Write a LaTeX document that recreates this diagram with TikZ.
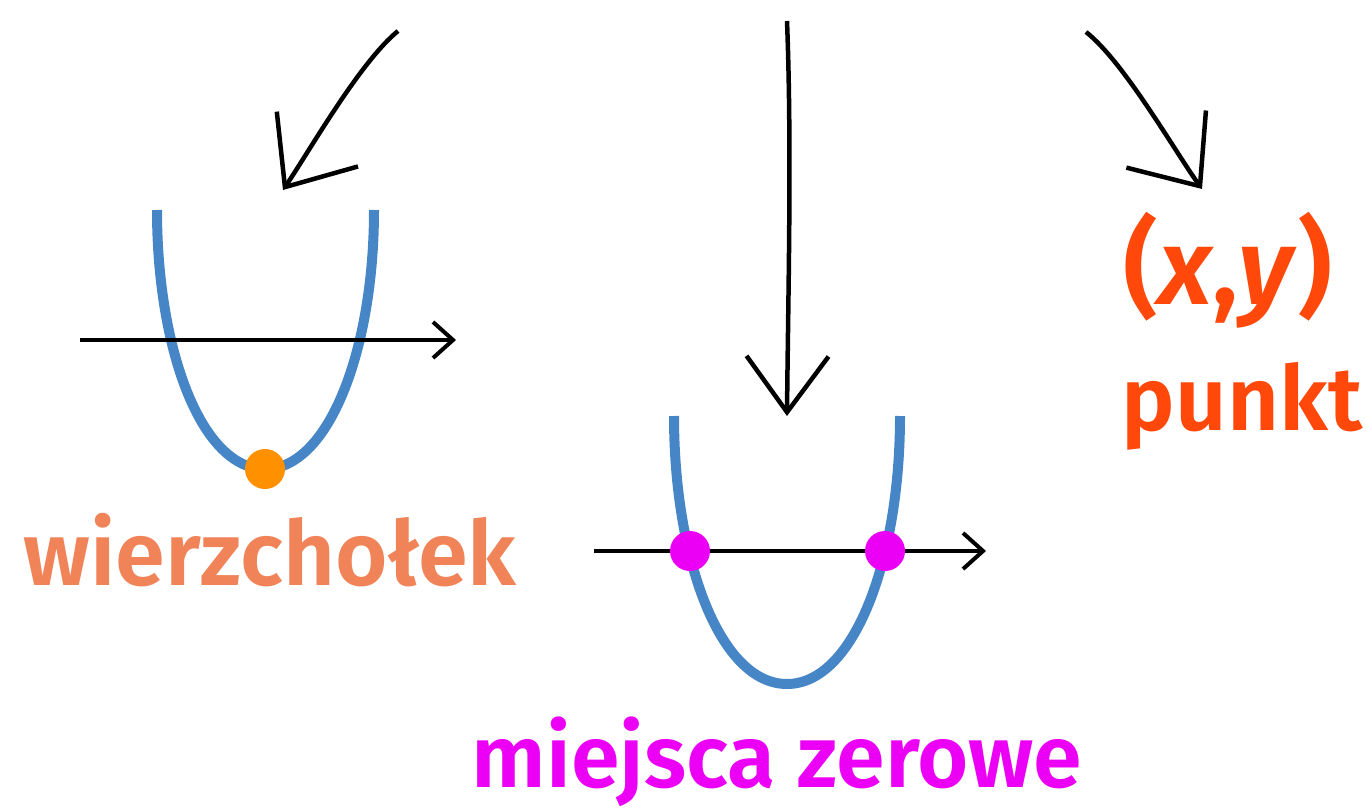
\documentclass[tikz,border=0pt]{standalone}
\usepackage{fontspec}
\setmainfont{Fira Sans}[BoldFont={Fira Sans SemiBold},BoldItalicFont={Fira Sans SemiBold Italic}]
\usepackage{tikz}
\usetikzlibrary{positioning,
				arrows.meta}
\definecolor{parabolablue}{RGB}{70,134,198}
\definecolor{vertexorange}{RGB}{255,145,0}
\definecolor{vertexcoral}{RGB}{240,132,88}
\definecolor{zeromagenta}{RGB}{236,0,245}
\definecolor{pointred}{RGB}{255,72,10}

\begin{document}
\begin{tikzpicture}[x=1pt, y=-1pt,
		xaxis/.style={line width=4pt, -{Straight Barb[length=20pt,width=36pt]}},
		parab/.style={line width=10pt, parabolablue},
		pointer/.style={line width=4.5pt, -{Straight Barb[length=58pt,width=98pt]}},
		word/.style={font=\bfseries\fontsize{90}{90}\selectfont, inner sep=0pt, anchor=base},
		spot/.style={circle, inner sep=0pt, minimum size=40pt}]
	\useasboundingbox (0,0) rectangle (1367,810);
	% left: vertex
	\draw[parab] (157,210) .. controls (157,349) and (201,469) .. (265,469)
		.. controls (329,469) and (374,349) .. (374,210);
	\draw[xaxis] (80,340) -- (456,340);
	\node[spot, fill=vertexorange] (vertex) at (265,469) {};
	\node[word, text=vertexcoral] (wierz) at (270,585) {wierzchołek};
	% middle: zeros
	\draw[parab] (674,416) .. controls (674,560) and (720,684) .. (787,684)
		.. controls (854,684) and (900,560) .. (900,416);
	\draw[xaxis] (594,551) -- (986,551);
	\node[spot, fill=zeromagenta] (zeroL) at (690,551) {};
	\node[spot, fill=zeromagenta] (zeroR) at (885,551) {};
	\node[word, text=zeromagenta, font=\bfseries\fontsize{88}{88}\selectfont] (miejsca) at (777,787) {miejsca zerowe};
	% right: point
	\node[word, text=pointred, font=\bfseries\fontsize{108}{108}\selectfont] (xy) at (1228,304) {(\textit{x},\textit{y})};
	\node[word, text=pointred] (punkt) at (1242,430) {punkt};
	% arrows
	\coordinate (fromL) at (398,31);
	\coordinate (toL) at (283,190);
	\coordinate (fromM) at (787,21);
	\coordinate (toM) at (787,416);
	\coordinate (fromR) at (1086,32);
	\coordinate (toR) at (1202,189);
	\draw[pointer] (fromL) .. controls (360,62) and (310,150) .. (toL);
	\draw[pointer, -{Straight Barb[length=56pt,width=82pt]}] (fromM) .. controls (792,150) and (788,300) .. (toM);
	\draw[pointer] (fromR) .. controls (1124,62) and (1174,150) .. (toR);
\end{tikzpicture}
\end{document}
